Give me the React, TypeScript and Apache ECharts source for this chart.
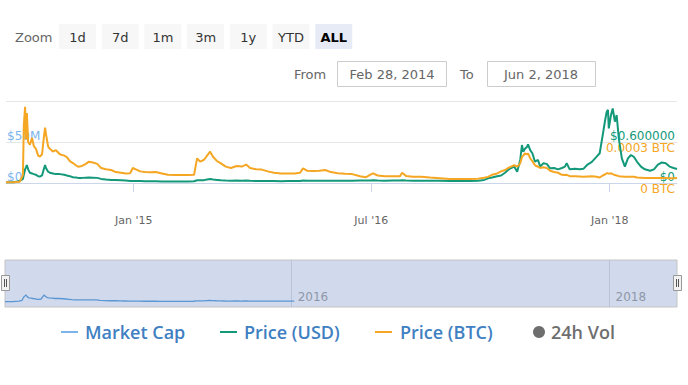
import React, { useEffect, useRef } from 'react';
import * as echarts from 'echarts';

// ---- data ----
const dates = [
  '2014-03-13','2014-03-31','2014-04-14','2014-04-21','2014-04-23','2014-04-26','2014-04-28','2014-04-30','2014-05-03','2014-05-07',
  '2014-05-12','2014-05-16','2014-05-21','2014-05-26','2014-05-30','2014-06-04','2014-06-08','2014-06-11','2014-06-13','2014-06-18',
  '2014-06-22','2014-06-29','2014-07-06','2014-07-15','2014-07-25','2014-07-31','2014-08-07','2014-08-14','2014-08-21','2014-08-26',
  '2014-09-04','2014-09-13','2014-09-20','2014-09-29','2014-10-09','2014-10-18','2014-10-29','2014-11-10','2014-11-21','2014-12-03',
  '2014-12-14','2014-12-24','2014-12-30','2015-01-06','2015-01-16','2015-01-27','2015-02-08','2015-02-21','2015-03-07','2015-03-21',
  '2015-04-06','2015-04-22','2015-05-08','2015-05-20','2015-05-27','2015-06-03','2015-06-12','2015-06-19','2015-06-26','2015-07-03',
  '2015-07-12','2015-07-21','2015-08-01','2015-08-13','2015-08-26','2015-09-07','2015-09-17','2015-09-26','2015-10-10','2015-10-23',
  '2015-11-06','2015-11-20','2015-12-06','2015-12-22','2016-01-07','2016-01-19','2016-01-26','2016-02-04','2016-02-18','2016-03-03',
  '2016-03-17','2016-03-30','2016-04-15','2016-05-02','2016-05-18','2016-06-05','2016-06-19','2016-06-28','2016-07-05','2016-07-16',
  '2016-08-01','2016-08-20','2016-09-05','2016-09-10','2016-09-19','2016-10-05','2016-10-24','2016-11-13','2016-12-06','2016-12-29',
  '2017-01-21','2017-02-13','2017-03-04','2017-03-18','2017-03-27','2017-04-05','2017-04-17','2017-04-26','2017-05-05','2017-05-12',
  '2017-05-19','2017-05-26','2017-06-02','2017-06-09','2017-06-13','2017-06-16','2017-06-20','2017-06-25','2017-06-27','2017-07-02',
  '2017-07-07','2017-07-13','2017-07-20','2017-07-25','2017-08-01','2017-08-09','2017-08-17','2017-08-26','2017-09-04','2017-09-13',
  '2017-09-20','2017-09-24','2017-10-01','2017-10-13','2017-10-24','2017-11-02','2017-11-11','2017-11-21','2017-12-02','2017-12-09',
  '2017-12-16','2017-12-21','2017-12-25','2017-12-28','2017-12-30','2018-01-04','2018-01-08','2018-01-13','2018-01-17','2018-01-22',
  '2018-01-29','2018-02-05','2018-02-12','2018-02-19','2018-02-26','2018-03-05','2018-03-14','2018-03-23','2018-04-04','2018-04-13',
  '2018-04-22','2018-05-01','2018-05-10','2018-05-19','2018-05-28','2018-06-05',
];

const priceUSD = [
  0.010,0.010,0.030,0.060,0.120,0.200,0.230,0.263,0.200,0.150,
  0.140,0.130,0.120,0.100,0.093,0.110,0.200,0.263,0.220,0.165,
  0.150,0.140,0.130,0.130,0.120,0.110,0.100,0.085,0.080,0.075,
  0.075,0.078,0.080,0.078,0.075,0.060,0.050,0.045,0.044,0.040,
  0.035,0.030,0.030,0.030,0.028,0.025,0.025,0.025,0.023,0.022,
  0.022,0.022,0.023,0.025,0.040,0.040,0.042,0.050,0.058,0.050,
  0.045,0.040,0.035,0.034,0.035,0.034,0.036,0.033,0.030,0.030,
  0.028,0.028,0.027,0.028,0.028,0.030,0.035,0.032,0.032,0.033,
  0.033,0.032,0.032,0.032,0.033,0.035,0.035,0.038,0.040,0.036,
  0.034,0.035,0.036,0.040,0.036,0.034,0.033,0.032,0.032,0.031,
  0.030,0.031,0.033,0.045,0.068,0.080,0.100,0.110,0.150,0.190,
  0.220,0.240,0.165,0.337,0.556,0.458,0.500,0.531,0.566,0.480,
  0.435,0.312,0.337,0.239,0.288,0.280,0.215,0.220,0.200,0.220,
  0.240,0.288,0.200,0.210,0.200,0.210,0.270,0.310,0.385,0.435,
  0.702,0.900,1.040,1.070,0.800,0.995,1.090,0.897,0.995,0.654,
  0.360,0.240,0.360,0.410,0.380,0.310,0.240,0.200,0.180,0.200,
  0.270,0.300,0.290,0.240,0.220,0.205,
];

const priceBTC = [
  0.000005,0.000006,0.000010,0.000060,0.000420,0.000558,0.000320,0.000512,0.000300,0.000280,
  0.000330,0.000270,0.000250,0.000200,0.000193,0.000210,0.000330,0.000405,0.000360,0.000266,
  0.000250,0.000230,0.000240,0.000210,0.000200,0.000190,0.000160,0.000146,0.000130,0.000119,
  0.000125,0.000140,0.000156,0.000150,0.000140,0.000110,0.000100,0.000095,0.000080,0.000075,
  0.000070,0.000072,0.000110,0.000100,0.000085,0.000080,0.000078,0.000080,0.000070,0.000060,
  0.000058,0.000058,0.000058,0.000060,0.000180,0.000156,0.000170,0.000200,0.000229,0.000190,
  0.000160,0.000144,0.000120,0.000110,0.000124,0.000120,0.000135,0.000110,0.000100,0.000098,
  0.000085,0.000075,0.000070,0.000070,0.000070,0.000075,0.000107,0.000090,0.000088,0.000090,
  0.000095,0.000080,0.000072,0.000068,0.000065,0.000050,0.000042,0.000060,0.000071,0.000055,
  0.000050,0.000050,0.000050,0.000075,0.000052,0.000046,0.000045,0.000040,0.000035,0.000030,
  0.000030,0.000030,0.000032,0.000038,0.000045,0.000060,0.000070,0.000085,0.000095,0.000110,
  0.000120,0.000130,0.000120,0.000144,0.000190,0.000200,0.000217,0.000210,0.000217,0.000180,
  0.000160,0.000130,0.000119,0.000110,0.000115,0.000110,0.000090,0.000080,0.000075,0.000060,
  0.000058,0.000060,0.000050,0.000050,0.000048,0.000045,0.000048,0.000050,0.000046,0.000040,
  0.000055,0.000062,0.000071,0.000071,0.000068,0.000071,0.000065,0.000058,0.000055,0.000050,
  0.000048,0.000046,0.000046,0.000046,0.000045,0.000040,0.000038,0.000036,0.000036,0.000036,
  0.000037,0.000037,0.000036,0.000035,0.000035,0.000036,
];

// Market cap ($M) shown in the navigator (it ends at the start of 2016)
const marketCapM = [
  0.8,0.8,2.5,5.0,10.0,16.7,19.0,22.0,16.7,12.5,
  11.7,10.8,10.0,8.3,7.7,9.2,16.7,22.0,18.3,13.7,
  12.5,11.7,10.8,10.8,10.0,9.2,8.3,7.1,6.7,6.2,
  6.2,6.5,6.7,6.5,6.2,5.0,4.2,3.7,3.7,3.3,
  2.9,2.5,2.5,2.5,2.3,2.1,2.1,2.1,1.9,1.8,
  1.8,1.8,1.9,2.1,3.3,3.3,3.5,4.2,4.8,4.2,
  3.7,3.3,2.9,2.8,2.9,2.8,3.0,2.7,2.5,2.5,
  2.3,2.3,2.2,2.3,2.3,
];

const mainTicks = ['2015-01-01', '2016-07-01', '2018-01-01'];
const navTicks = ['2016-01-01', '2018-01-01'];
const zoomButtons = ['1d', '7d', '1m', '3m', '1y', 'YTD', 'ALL'];
const rangeFrom = 'Feb 28, 2014';
const rangeTo = 'Jun 2, 2018';
const legendNames = ['Market Cap', 'Price (USD)', 'Price (BTC)', '24h Vol'];
const MONTHS = ['Jan','Feb','Mar','Apr','May','Jun','Jul','Aug','Sep','Oct','Nov','Dec'];

const C_CAP = '#7cb5ec';
const C_NAV = '#5b97d3';
const C_USD = '#13997a';
const C_BTC = '#f5a623';
const C_LEG = '#3f80c2';
const FONT = 'DejaVu Sans';

const ts = (d: string) => Date.parse(d + 'T00:00:00Z');
const X_MIN = ts('2014-03-13');
const X_MAX = ts('2018-06-05');

export default function App() {
  const ref = useRef<HTMLDivElement>(null);
  useEffect(() => {
    if (!ref.current) return;
    const chart = echarts.init(ref.current, undefined, { renderer: 'svg' });

    const graphics: any[] = [];
    graphics.push({ type: 'text', x: 15, y: 37, style: { text: 'Zoom', fill: '#666', fontSize: 13, fontFamily: FONT, verticalAlign: 'middle' } });
    zoomButtons.forEach((b, i) => {
      const x = 59 + i * 42.7;
      const active = b === 'ALL';
      graphics.push({ type: 'rect', shape: { x, y: 24, width: 37, height: 25 }, style: { fill: active ? '#e6ebf5' : '#f7f7f7' } });
      graphics.push({ type: 'text', x: x + 18.5, y: 37, style: { text: b, fill: active ? '#000' : '#333', fontSize: 13, fontWeight: active ? 'bold' : 'normal', fontFamily: FONT, align: 'center', verticalAlign: 'middle' } });
    });
    graphics.push({ type: 'text', x: 294, y: 74, style: { text: 'From', fill: '#666', fontSize: 13, fontFamily: FONT, verticalAlign: 'middle' } });
    graphics.push({ type: 'rect', shape: { x: 337.5, y: 61.5, width: 109, height: 25 }, style: { fill: '#fff', stroke: '#cccccc', lineWidth: 1 } });
    graphics.push({ type: 'text', x: 392, y: 74, style: { text: rangeFrom, fill: '#666', fontSize: 13, fontFamily: FONT, align: 'center', verticalAlign: 'middle' } });
    graphics.push({ type: 'text', x: 460, y: 74, style: { text: 'To', fill: '#666', fontSize: 13, fontFamily: FONT, verticalAlign: 'middle' } });
    graphics.push({ type: 'rect', shape: { x: 487.5, y: 61.5, width: 108, height: 25 }, style: { fill: '#fff', stroke: '#cccccc', lineWidth: 1 } });
    graphics.push({ type: 'text', x: 541, y: 74, style: { text: rangeTo, fill: '#666', fontSize: 13, fontFamily: FONT, align: 'center', verticalAlign: 'middle' } });

    // navigator handles
    [5, 677].forEach((hx) => {
      graphics.push({ type: 'rect', z: 100, shape: { x: hx - 3.5, y: 275.5, width: 8, height: 15 }, style: { fill: '#f2f2f2', stroke: '#999999', lineWidth: 1 } });
      graphics.push({ type: 'line', z: 101, shape: { x1: hx - 0.5, y1: 279, x2: hx - 0.5, y2: 287 }, style: { stroke: '#555', lineWidth: 1 } });
      graphics.push({ type: 'line', z: 101, shape: { x1: hx + 1.5, y1: 279, x2: hx + 1.5, y2: 287 }, style: { stroke: '#555', lineWidth: 1 } });
    });

    // legend
    const legY = 332;
    const legFont = { fontSize: 18, fontWeight: 600, fontFamily: 'Open Sans', verticalAlign: 'middle' };
    const legLines = [
      { x: 61, col: C_CAP, tx: 85 },
      { x: 220, col: C_USD, tx: 244 },
      { x: 375, col: C_BTC, tx: 400 },
    ];
    legLines.forEach((l, i) => {
      graphics.push({ type: 'line', shape: { x1: l.x, y1: legY, x2: l.x + 17, y2: legY }, style: { stroke: l.col, lineWidth: 2 } });
      graphics.push({ type: 'text', x: l.tx, y: legY, style: { text: legendNames[i], fill: C_LEG, ...legFont } });
    });
    graphics.push({ type: 'circle', shape: { cx: 539, cy: legY, r: 6 }, style: { fill: '#6e6e6e' } });
    graphics.push({ type: 'text', x: 551, y: legY, style: { text: legendNames[3], fill: '#6e6e6e', ...legFont } });

    const option: any = {
      animation: false,
      textStyle: { fontFamily: FONT },
      graphic: graphics,
      grid: [
        { left: 6, right: 11, top: 101, height: 82 },
        { left: 5, right: 11, top: 260, height: 47, show: true, backgroundColor: '#d1d9ec', borderColor: '#c4c4c4', borderWidth: 1 },
      ],
      xAxis: [
        {
          type: 'value', gridIndex: 0, min: X_MIN, max: X_MAX, offset: 20,
          axisLine: { show: true, lineStyle: { color: '#ccd6eb' } },
          axisTick: { show: true, length: 9, customValues: mainTicks.map(ts), lineStyle: { color: '#ccd6eb' } },
          axisLabel: {
            customValues: mainTicks.map(ts), color: '#666', fontSize: 11, margin: 12,
            formatter: (v: number) => { const d = new Date(v); return `${MONTHS[d.getUTCMonth()]} '${String(d.getUTCFullYear()).slice(2)}`; },
          },
          splitLine: { show: false },
        },
        {
          type: 'value', gridIndex: 1, min: X_MIN, max: X_MAX,
          axisLine: { show: false },
          axisTick: { show: false, customValues: navTicks.map(ts) },
          axisLabel: {
            inside: true, customValues: navTicks.map(ts), color: '#8e97a8', fontSize: 12, margin: 4, align: 'left', padding: [0, 0, 0, 6],
            formatter: (v: number) => String(new Date(v).getUTCFullYear()),
          },
          splitLine: { show: true, lineStyle: { color: '#b9c3d8', width: 1 } },
        },
      ],
      yAxis: [
        {
          type: 'value', gridIndex: 0, position: 'left', min: 0, max: 100e6, interval: 50e6,
          axisLine: { show: false }, axisTick: { show: false }, splitLine: { show: false },
          axisLabel: { inside: true, showMaxLabel: false, color: C_CAP, fontSize: 12, margin: 1, verticalAlign: 'bottom',
            formatter: (v: number) => (v === 0 ? '$0' : `$${v / 1e6}M`) },
        },
        {
          type: 'value', gridIndex: 0, position: 'right', min: 0, max: 1.2, interval: 0.6,
          axisLine: { show: false }, axisTick: { show: false },
          splitLine: { show: true, lineStyle: { color: '#e6e6e6' } },
          axisLabel: { inside: true, showMaxLabel: false, color: C_USD, fontSize: 12, margin: 2, verticalAlign: 'bottom',
            formatter: (v: number) => (v === 0 ? '$0' : `$${v.toFixed(6)}`) },
        },
        {
          type: 'value', gridIndex: 0, position: 'right', min: 0, max: 0.0006, interval: 0.0003,
          axisLine: { show: false }, axisTick: { show: false }, splitLine: { show: false },
          axisLabel: { inside: true, showMaxLabel: false, color: C_BTC, fontSize: 12, margin: 2, verticalAlign: 'top',
            formatter: (v: number) => (v === 0 ? '0 BTC' : `${v.toFixed(4)} BTC`) },
        },
        { type: 'value', gridIndex: 1, min: -16, max: 132, show: false, splitLine: { show: false } },
      ],
      series: [
        {
          name: 'Market Cap', type: 'line', xAxisIndex: 1, yAxisIndex: 3, symbol: 'none', showSymbol: false,
          lineStyle: { color: C_NAV, width: 1.3 },
          data: marketCapM.map((v, i) => [ts(dates[i]), v]),
        },
        {
          name: 'Price (USD)', type: 'line', xAxisIndex: 0, yAxisIndex: 1, symbol: 'none', showSymbol: false, z: 3,
          lineStyle: { color: C_USD, width: 2 },
          data: priceUSD.map((v, i) => [ts(dates[i]), v]),
        },
        {
          name: 'Price (BTC)', type: 'line', xAxisIndex: 0, yAxisIndex: 2, symbol: 'none', showSymbol: false, z: 4,
          lineStyle: { color: C_BTC, width: 2 },
          data: priceBTC.map((v, i) => [ts(dates[i]), v]),
        },
      ],
    };
    chart.setOption(option);
    return () => chart.dispose();
  }, []);

  return <div ref={ref} style={{ position: 'absolute', left: 0, top: 0, width: 688, height: 385, background: '#fff' }} />;
}
